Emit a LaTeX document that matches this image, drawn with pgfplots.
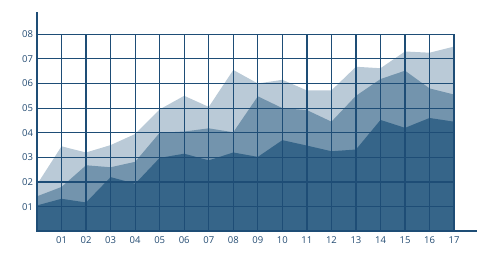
\documentclass[border=0pt]{standalone}
\usepackage{fontspec}
\setmainfont{Open Sans}
\usepackage{pgfplots}
\pgfplotsset{compat=1.18}
\definecolor{gridc}{HTML}{1E4D76}
\definecolor{labc}{HTML}{234B72}
\definecolor{cdark}{HTML}{366589}
\definecolor{cmed}{HTML}{7394AD}
\definecolor{clight}{HTML}{BACAD7}
\begin{document}
\begin{tikzpicture}
\begin{axis}[
  scale only axis, width=417pt, height=197pt,
  xmin=0, xmax=17, ymin=0, ymax=8,
  clip=false, axis on top,
  axis line style={draw=none},
  xtick={1,...,17}, ytick={1,...,8},
  extra x ticks={0}, extra x tick labels={}, extra y ticks={0}, extra y tick labels={},
  extra tick style={grid=major},
  xticklabels={01,02,03,04,05,06,07,08,09,10,11,12,13,14,15,16,17},
  yticklabels={01,02,03,04,05,06,07,08},
  major tick length=0pt,
  grid=major,
  grid style={draw=gridc, line width=1.25pt},
  tick label style={font=\fontsize{9.5}{11}\selectfont, text=labc},
  xticklabel style={yshift=-1.5pt},
  yticklabel style={xshift=-0.5pt},
]
\addplot[fill=clight, draw=none] coordinates {
(0,1.9) (1,3.45) (2,3.2) (3,3.5) (4,3.95) (5,4.95) (6,5.5) (7,5.05) (8,6.55)
(9,6.0) (10,6.15) (11,5.72) (12,5.72) (13,6.68) (14,6.62) (15,7.3) (16,7.25) (17,7.5)} \closedcycle;
\addplot[fill=cmed, draw=none] coordinates {
(0,1.42) (1,1.8) (2,2.68) (3,2.6) (4,2.82) (5,4.0) (6,4.05) (7,4.18) (8,4.02)
(9,5.48) (10,5.0) (11,4.92) (12,4.45) (13,5.5) (14,6.18) (15,6.52) (16,5.8) (17,5.55)} \closedcycle;
\addplot[fill=cdark, draw=none] coordinates {
(0,1.05) (1,1.32) (2,1.17) (3,2.2) (4,1.93) (5,2.98) (6,3.15) (7,2.88) (8,3.2)
(9,3.02) (10,3.7) (11,3.48) (12,3.25) (13,3.32) (14,4.52) (15,4.2) (16,4.6) (17,4.45)} \closedcycle;
\draw[gridc, line width=2pt] (axis cs:0,8.9) -- (axis cs:0,0) -- (axis cs:17.94,0);
\path (axis cs:-1.508,-0.976) rectangle (axis cs:18.87,9.39);
\end{axis}
\end{tikzpicture}
\end{document}
